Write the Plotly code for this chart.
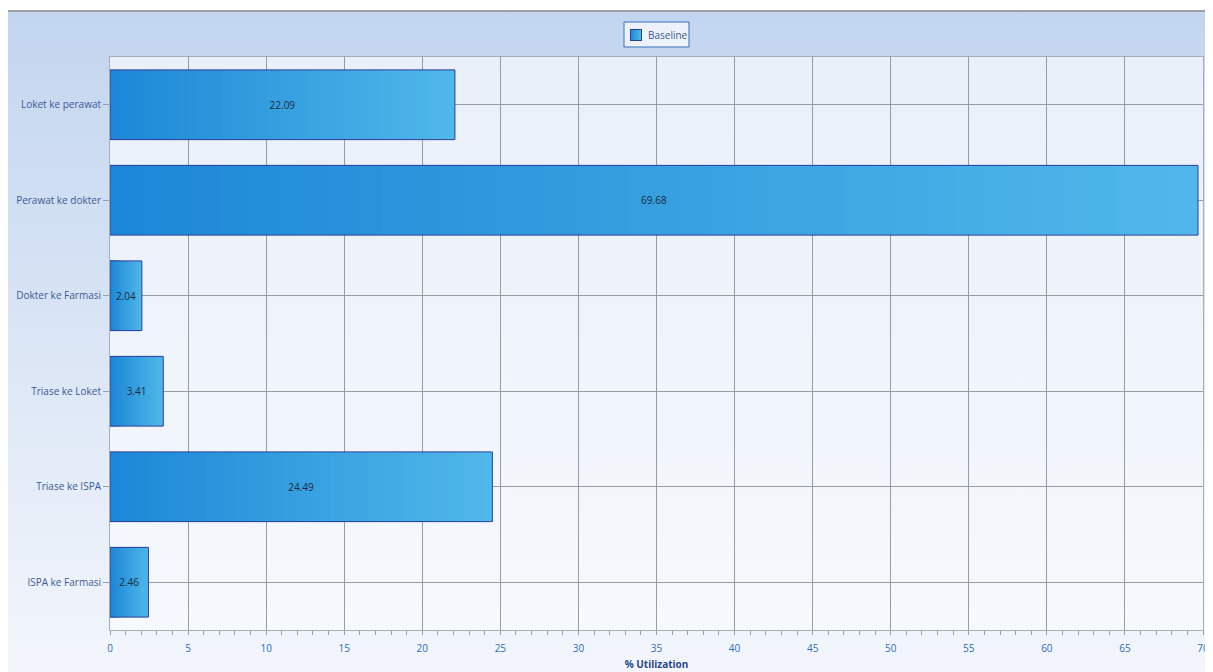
import base64
import plotly.graph_objects as go

categories = ["Loket ke perawat", "Perawat ke dokter", "Dokter ke Farmasi",
              "Triase ke Loket", "Triase ke ISPA", "ISPA ke Farmasi"]
baseline = [22.09, 69.68, 2.04, 3.41, 24.49, 2.46]
series_name = "Baseline"
x_title = "% Utilization"

# page body has an 8px margin; figure fills the rest of the 1213x672 window
W, H = 1205, 664
ML, MR, MT, MB = 102, 10, 49, 42
PW, PH = W - ML - MR, H - MT - MB

def lerp(c1, c2, t):
    return "rgb(%d,%d,%d)" % tuple(round(a + (b - a) * t) for a, b in zip(c1, c2))

dark = (28, 135, 215)
light = (80, 184, 233)
N = 40

fig = go.Figure()
# layered gradient: longest (lightest) first, shorter darker ones on top -> no seams
for k in range(N):
    frac = (N - k) / N
    t = (N - k - 0.5) / N
    fig.add_trace(go.Bar(
        y=categories, x=[v * frac for v in baseline], base=[0] * len(baseline),
        orientation="h", width=0.73, marker=dict(color=lerp(dark, light, t), line=dict(width=0)),
        showlegend=False, hoverinfo="skip"))

# outline + labels
fig.add_trace(go.Bar(
    y=categories, x=baseline, orientation="h", width=0.73,
    marker=dict(color="rgba(0,0,0,0)", line=dict(color="#2c3e9c", width=1)),
    text=["%.2f" % v for v in baseline], textposition="inside", insidetextanchor="middle",
    textfont=dict(color="#1c2a3c", size=10, family="Open Sans"),
    showlegend=False, name=series_name))

def uri(s):
    return "data:image/svg+xml;base64," + base64.b64encode(s.encode()).decode()

bg_svg = f'''<svg xmlns="http://www.w3.org/2000/svg" width="{W}" height="{H}" viewBox="0 0 {W} {H}" preserveAspectRatio="none">
<defs><linearGradient id="g" x1="0" y1="0" x2="0" y2="1">
<stop offset="0" stop-color="#c2d5ef"/><stop offset="1" stop-color="#f3f6fc"/></linearGradient></defs>
<rect x="0" y="0" width="{W}" height="{H}" fill="url(#g)"/>
<rect x="0" y="0" width="{W}" height="2" fill="#ffffff"/>
<rect x="0" y="2" width="{W}" height="2" fill="#9a9ea6"/></svg>'''
plot_svg = f'''<svg xmlns="http://www.w3.org/2000/svg" width="{PW}" height="{PH}" viewBox="0 0 {PW} {PH}" preserveAspectRatio="none">
<defs><linearGradient id="p" x1="0" y1="0" x2="0" y2="1">
<stop offset="0" stop-color="#e9f0fa"/><stop offset="1" stop-color="#f6f9fd"/></linearGradient></defs>
<rect x="0" y="0" width="{PW}" height="{PH}" fill="url(#p)"/></svg>'''
sq_svg = '''<svg xmlns="http://www.w3.org/2000/svg" width="12" height="12" viewBox="0 0 12 12" preserveAspectRatio="none">
<defs><linearGradient id="s" x1="0" y1="0" x2="1" y2="0">
<stop offset="0" stop-color="#1c87d7"/><stop offset="1" stop-color="#50b8e9"/></linearGradient></defs>
<rect x="0.5" y="0.5" width="11" height="11" fill="url(#s)" stroke="#2c3e9c" stroke-width="1"/></svg>'''

def px_x(p):  # window pixel -> paper x
    return (p - 8 - ML) / PW

def px_y(p):  # window pixel -> paper y
    return 1 - (p - 8 - MT) / PH

images = [
    dict(source=uri(bg_svg), xref="paper", yref="paper",
         x=-ML / PW, y=1 + MT / PH, sizex=W / PW, sizey=H / PH,
         sizing="stretch", layer="below", xanchor="left", yanchor="top"),
    dict(source=uri(plot_svg), xref="paper", yref="paper", x=0, y=1, sizex=1, sizey=1,
         sizing="stretch", layer="below", xanchor="left", yanchor="top"),
    dict(source=uri(sq_svg), xref="paper", yref="paper", x=px_x(630), y=px_y(29),
         sizex=12 / PW, sizey=12 / PH, sizing="stretch", layer="above",
         xanchor="left", yanchor="top"),
]

shapes = [dict(type="rect", xref="paper", yref="paper",
               x0=px_x(624), x1=px_x(689), y0=px_y(47), y1=px_y(22),
               line=dict(color="#3a72b8", width=1), fillcolor="#edf2fa", layer="below")]

annotations = [dict(text=series_name, xref="paper", yref="paper", x=px_x(646), y=px_y(35),
                    xanchor="left", yanchor="middle", showarrow=False,
                    font=dict(size=10, color="#3c5a96", family="Open Sans"))]

fig.update_layout(
    width=W, height=H, margin=dict(l=ML, r=MR, t=MT, b=MB),
    paper_bgcolor="white", plot_bgcolor="rgba(0,0,0,0)",
    barmode="overlay", images=images, shapes=shapes, annotations=annotations,
    showlegend=False,
    font=dict(family="Open Sans", size=10, color="#3c5a96"),
    xaxis=dict(range=[0, 70], dtick=5, showgrid=True, gridcolor="#979ba3", gridwidth=1,
               automargin=False,
               showline=True, linecolor="#a9adb5", mirror=True, zeroline=False,
               ticks="outside", ticklen=4, tickcolor="#9a9ea6", ticklabelstandoff=5,
               minor=dict(dtick=1, ticks="outside", ticklen=4, tickcolor="#9a9ea6", showgrid=False),
               tickfont=dict(size=10, color="#2d6cc0"),
               title=dict(text="<b>" + x_title + "</b>", font=dict(size=10, color="#2a4a8a"), standoff=6)),
    yaxis=dict(categoryorder="array", categoryarray=categories, autorange="reversed",
               automargin=False,
               showgrid=True, gridcolor="#979ba3", gridwidth=1,
               showline=True, linecolor="#a9adb5", mirror=True, zeroline=False,
               ticks="outside", ticklen=6, tickcolor="#9a9ea6",
               tickfont=dict(size=10, color="#3c5a96")),
)

fig.write_html("out.html")
